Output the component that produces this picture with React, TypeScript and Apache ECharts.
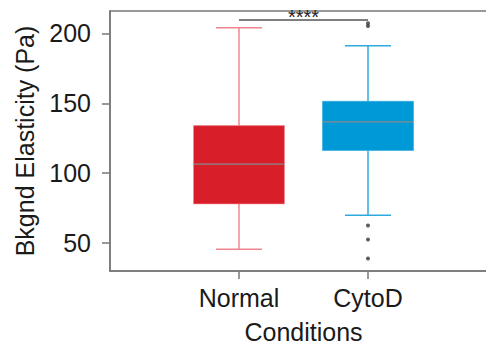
import React, { useEffect, useRef } from "react";
import * as echarts from "echarts";

// Categories (empty padding slots keep the layout of the original plot range)
const categories = ["", "Normal", "CytoD", ""];
const groups = ["Normal", "CytoD"];
// [low whisker, Q1, median, Q3, high whisker]
const normalStats = [45.6, 78.0, 106.5, 134.0, 204.0];
const cytodStats = [69.8, 116.2, 136.7, 151.4, 191.2];
// outliers (CytoD)
const cytodOutliers = [207.3, 205.2, 62.6, 52.6, 38.9];
const yTicks = [50, 100, 150, 200];
const signifLabel = "****";
const signifLevel = 209.8;

const FILLS = ["#d81e29", "#0099d8"];
const WHISKERS = ["#f0868f", "#2eaadf"];
const MEDIAN = "#8a8a8a";
const AXIS = "#777777";
const TEXT = "#1a1a1a";
const FONT = "Liberation Sans, Arial, Helvetica, sans-serif";

export default function App() {
  const ref = useRef<HTMLDivElement>(null);
  useEffect(() => {
    if (!ref.current) return;
    const chart = echarts.init(ref.current, null, { renderer: "svg" });
    const boxData = [
      [categories.indexOf("Normal"), ...normalStats],
      [categories.indexOf("CytoD"), ...cytodStats],
    ];
    const outlierData = cytodOutliers.map((v) => [categories.indexOf("CytoD"), v]);
    chart.setOption({
      animation: false,
      grid: {
        left: 110,
        top: 11,
        width: 387,
        height: 260,
        outerBoundsMode: "none",
        containLabel: false,
        show: true,
        borderColor: AXIS,
        borderWidth: 1.5,
        backgroundColor: "transparent",
      },
      xAxis: {
        type: "category",
        data: categories,
        boundaryGap: false,
        axisLine: { show: true, lineStyle: { color: AXIS, width: 1.5 } },
        axisTick: {
          show: true,
          length: 8,
          interval: (_i: number, v: string) => v !== "",
          lineStyle: { color: AXIS, width: 1.5 },
        },
        axisLabel: { interval: 0, margin: 14, fontSize: 25, color: TEXT, fontFamily: FONT },
        splitLine: { show: false },
        name: "Conditions",
        nameLocation: "middle",
        nameGap: 48,
        nameTextStyle: { fontSize: 25, color: TEXT, fontFamily: FONT },
      },
      yAxis: {
        type: "value",
        min: 30,
        max: 216,
        axisLine: { show: true, lineStyle: { color: AXIS, width: 1.5 } },
        axisTick: { show: true, length: 8, customValues: yTicks, lineStyle: { color: AXIS, width: 1.5 } },
        axisLabel: { margin: 19, fontSize: 25, color: TEXT, fontFamily: FONT, customValues: yTicks },
        splitLine: { show: false },
        name: "Bkgnd Elasticity (Pa)",
        nameLocation: "middle",
        nameGap: 73,
        nameTextStyle: { fontSize: 25, color: TEXT, fontFamily: FONT },
      },
      series: [
        {
          type: "custom",
          data: boxData,
          encode: { x: 0, y: [1, 2, 3, 4, 5] },
          renderItem: (params: any, api: any) => {
            const x = api.value(0);
            const lo = api.coord([x, api.value(1)]);
            const q1 = api.coord([x, api.value(2)]);
            const med = api.coord([x, api.value(3)]);
            const q3 = api.coord([x, api.value(4)]);
            const hi = api.coord([x, api.value(5)]);
            const band = api.size([1, 0])[0];
            const bw = band * 0.705;
            const cw = band * 0.357;
            const cx = lo[0];
            const fill = FILLS[params.dataIndex];
            const wc = WHISKERS[params.dataIndex];
            const ls = { stroke: wc, lineWidth: 1.5 };
            return {
              type: "group",
              children: [
                { type: "line", shape: { x1: cx, y1: hi[1], x2: cx, y2: q3[1] }, style: ls },
                { type: "line", shape: { x1: cx, y1: lo[1], x2: cx, y2: q1[1] }, style: ls },
                { type: "line", shape: { x1: cx - cw / 2, y1: hi[1], x2: cx + cw / 2, y2: hi[1] }, style: ls },
                { type: "line", shape: { x1: cx - cw / 2, y1: lo[1], x2: cx + cw / 2, y2: lo[1] }, style: ls },
                {
                  type: "rect",
                  shape: { x: cx - bw / 2, y: q3[1], width: bw, height: q1[1] - q3[1] },
                  style: { fill, stroke: wc, lineWidth: 0.6 },
                },
                {
                  type: "line",
                  shape: { x1: cx - bw / 2, y1: med[1], x2: cx + bw / 2, y2: med[1] },
                  style: { stroke: MEDIAN, lineWidth: 1.2 },
                },
              ],
            };
          },
        },
        {
          type: "scatter",
          data: outlierData,
          symbolSize: 4,
          itemStyle: { color: "#333333" },
          markLine: {
            silent: true,
            symbol: ["none", "none"],
            lineStyle: { color: "#555555", width: 1.5, type: "solid" },
            label: {
              show: true,
              position: "middle",
              formatter: signifLabel,
              fontSize: 20,
              color: "#222222",
              fontFamily: FONT,
              distance: -7,
            },
            data: [[{ coord: [groups[0], signifLevel] }, { coord: [groups[1], signifLevel] }]],
          },
        },
      ],
    });
    return () => chart.dispose();
  }, []);
  return (
    <div
      ref={ref}
      style={{ width: 486, height: 345, position: "fixed", left: 0, top: 0, overflow: "hidden", background: "#fff" }}
    />
  );
}
